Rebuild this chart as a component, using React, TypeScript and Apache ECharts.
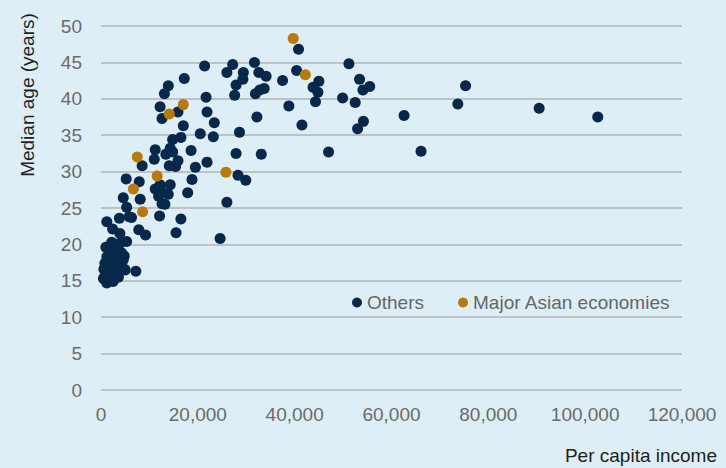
import React, { useEffect, useRef } from "react";
import * as echarts from "echarts";

// Per capita income (x) vs median age in years (y)
const others: [number, number][] = [
  // low-income cluster
  [1200, 23.1], [2400, 22.1], [3900, 21.5], [7800, 22.0], [9200, 21.3],
  [5300, 20.4], [3200, 20.0], [1900, 19.0], [1200, 18.3], [2900, 18.8],
  [4300, 18.8], [4600, 17.9], [800, 17.4], [2500, 17.4], [4300, 17.2],
  [1500, 16.3], [3200, 16.5], [5000, 16.5], [7200, 16.3], [800, 15.6],
  [2900, 15.8], [1200, 14.7], [2500, 14.9], [500, 15.3], [3900, 17.9],
  [1900, 17.9], [1000, 19.6], [2200, 20.3], [3500, 19.4], [1500, 17.0],
  [3600, 15.5], [4800, 18.4], [2200, 16.0], [600, 16.6], [1700, 15.4],
  [3300, 18.2], [4000, 20.2],
  // lower-middle
  [3800, 23.6], [6300, 23.7], [5800, 23.8], [5300, 25.1], [4600, 26.4],
  [8100, 26.2], [5200, 29.0], [7900, 28.6], [8500, 30.8], [12100, 23.9],
  [16500, 23.5], [15500, 21.6], [24600, 20.8], [26000, 25.8],
  [11200, 27.6], [12200, 28.2], [12600, 27.2], [11900, 26.6], [14300, 28.2],
  [13900, 26.9], [12600, 25.6], [13200, 25.5], [17900, 27.1], [18800, 28.9],
  // 30-35
  [11200, 33.0], [11000, 31.7], [14300, 33.2], [13400, 32.4], [14800, 32.7],
  [18600, 32.9], [27900, 32.5], [33100, 32.4], [14100, 30.8], [15900, 31.5],
  [15400, 30.7], [19500, 30.6], [21900, 31.3], [28300, 29.5], [29900, 28.8],
  // 35-40
  [14800, 34.4], [16500, 34.7], [20500, 35.2], [23200, 34.8], [28600, 35.4],
  [32200, 37.5], [17000, 36.3], [23400, 36.7], [21900, 38.2], [15900, 38.2],
  [12200, 38.9], [12600, 37.3], [21700, 40.2], [38800, 39.0],
  // 40-45
  [21400, 44.5], [27200, 44.7], [26000, 43.6], [31700, 45.0], [29400, 43.6],
  [32600, 43.6], [34100, 43.1], [29300, 42.7], [37500, 42.5], [17200, 42.8],
  [13900, 41.8], [13100, 40.7], [27900, 41.9], [27600, 40.5], [33700, 41.4],
  [32800, 41.2], [31900, 40.7],
  // high income
  [40800, 46.8], [51200, 44.8], [40400, 43.9], [45000, 42.4], [43800, 41.6],
  [44800, 40.9], [44300, 39.6], [53400, 42.7], [55500, 41.7], [54100, 41.2],
  [49900, 40.1], [52500, 39.5], [41500, 36.4], [54200, 36.9], [53000, 35.9],
  [62600, 37.7], [73700, 39.3], [75300, 41.8], [47000, 32.7], [66100, 32.8],
  [90500, 38.7], [102600, 37.5],
];

const majorAsian: [number, number][] = [
  [7500, 32.0], [6700, 27.6], [11600, 29.4], [8600, 24.5], [17000, 39.2],
  [14100, 37.9], [25800, 29.9], [39700, 48.3], [42200, 43.3],
];

const seriesNames = ["Others", "Major Asian economies"];
const xAxisTitle = "Per capita income";
const yAxisTitle = "Median age (years)";

const NAVY = "#06284a";
const GOLD = "#b97a0c";
const FONT = "'Liberation Sans', Arial, sans-serif";

export default function App() {
  const ref = useRef<HTMLDivElement>(null);
  useEffect(() => {
    if (!ref.current) return;
    const chart = echarts.init(ref.current, undefined, { renderer: "svg" });
    chart.setOption({
      animation: false,
      backgroundColor: "#deeef7",
      textStyle: { fontFamily: FONT },
      grid: { left: 101, right: 44, top: 26, bottom: 78, containLabel: false },
      legend: {
        left: 347,
        top: 288,
        icon: "circle",
        itemWidth: 10,
        itemHeight: 10,
        itemGap: 34,
        textStyle: { fontSize: 19, color: "#666666", fontFamily: FONT },
        data: seriesNames,
      },
      xAxis: {
        type: "value",
        min: 0,
        max: 120000,
        interval: 20000,
        splitLine: { show: false },
        axisLine: { show: false },
        axisTick: { show: false },
        axisLabel: {
          fontSize: 19,
          color: "#6a6a6a",
          margin: 15,
          formatter: (v: number) => v.toLocaleString("en-US"),
        },
      },
      yAxis: {
        type: "value",
        min: 0,
        max: 50,
        interval: 5,
        axisLine: { show: false },
        axisTick: { show: false },
        splitLine: { show: true, lineStyle: { color: "#b3b3b3", width: 1.5 } },
        axisLabel: { fontSize: 19, color: "#6a6a6a", margin: 19 },
      },
      graphic: [
        {
          type: "text",
          x: 27,
          y: 95,
          rotation: Math.PI / 2,
          style: {
            text: yAxisTitle,
            fontSize: 19,
            fontFamily: FONT,
            fill: "#1e1e1e",
            align: "center",
            verticalAlign: "middle",
          },
        },
        {
          type: "text",
          right: 9,
          top: 446,
          style: {
            text: xAxisTitle,
            fontSize: 19,
            fontFamily: FONT,
            fill: "#1e1e1e",
          },
        },
      ],
      series: [
        {
          name: seriesNames[0],
          type: "scatter",
          symbolSize: 11,
          itemStyle: { color: NAVY, opacity: 1 },
          data: others,
        },
        {
          name: seriesNames[1],
          type: "scatter",
          symbolSize: 11,
          itemStyle: { color: GOLD, opacity: 1 },
          data: majorAsian,
        },
      ],
    });
    return () => chart.dispose();
  }, []);
  return (
    <div
      ref={ref}
      style={{ position: "fixed", left: 0, top: 0, width: 726, height: 468 }}
    />
  );
}
